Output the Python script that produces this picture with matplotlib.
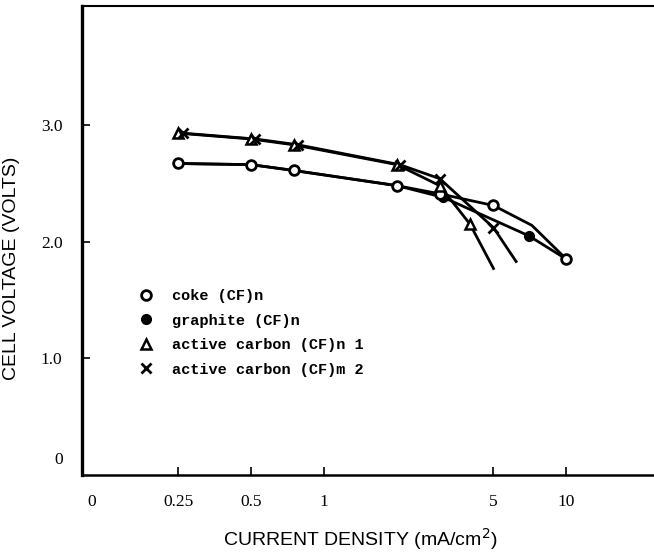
import matplotlib
matplotlib.use('Agg')
import matplotlib.pyplot as plt

# current density (mA/cm2) and cell voltage (V)
coke_I = [0.25, 0.5, 0.75, 2, 3, 5, 10]
coke_V = [2.67, 2.66, 2.61, 2.48, 2.41, 2.31, 1.85]
coke_line_I = [0.25, 0.5, 0.75, 2, 3, 5, 7.2, 10]
coke_line_V = [2.67, 2.66, 2.61, 2.48, 2.41, 2.31, 2.14, 1.85]

graphite_I = [0.25, 0.5, 0.75, 2, 3.1, 7]
graphite_V = [2.67, 2.66, 2.61, 2.48, 2.38, 2.05]
graphite_line_I = [0.25, 0.5, 0.75, 2, 3.1, 7, 10]
graphite_line_V = [2.67, 2.66, 2.61, 2.48, 2.38, 2.05, 1.85]

ac1_I = [0.25, 0.5, 0.75, 2, 3, 4]
ac1_V = [2.93, 2.88, 2.83, 2.66, 2.48, 2.15]
ac1_line_I = [0.25, 0.5, 0.75, 2, 3, 4, 5.0]
ac1_line_V = [2.93, 2.88, 2.83, 2.66, 2.48, 2.15, 1.77]

ac2_I = [0.26, 0.52, 0.78, 2.05, 3, 5]
ac2_V = [2.93, 2.88, 2.83, 2.66, 2.54, 2.12]
ac2_line_I = [0.26, 0.52, 0.78, 2.05, 3, 5, 6.2]
ac2_line_V = [2.93, 2.88, 2.83, 2.66, 2.54, 2.12, 1.83]

labels = ['coke (CF)n', 'graphite (CF)n', 'active carbon (CF)n 1', 'active carbon (CF)m 2']

x_ticks = [0.11, 0.25, 0.5, 1, 5, 10]
x_ticklabels = ['0', '0.25', '0.5', '1', '5', '10']
y_ticks = [0.15, 1, 2, 3]
y_ticklabels = ['0', '1.0', '2.0', '3.0']

fig = plt.figure(figsize=(6.54, 5.57), dpi=100)
ax = fig.add_axes([82 / 654, 1 - 475 / 557, 1 - 82 / 654, 469 / 557])

lw = 2.0
ax.plot(graphite_line_I, graphite_line_V, color='black', lw=lw, zorder=2)
ax.plot(coke_line_I, coke_line_V, color='black', lw=lw, zorder=2)
ax.plot(ac1_line_I, ac1_line_V, color='black', lw=lw, zorder=2)
ax.plot(ac2_line_I, ac2_line_V, color='black', lw=lw, zorder=2)

h_g, = ax.plot(graphite_I, graphite_V, 'o', ms=7, mfc='black', mec='black', zorder=3)
h_c, = ax.plot(coke_I, coke_V, 'o', ms=7, mfc='white', mec='black', mew=2.0, zorder=4)
h_t, = ax.plot(ac1_I, ac1_V, '^', ms=7, mfc='white', mec='black', mew=1.8, zorder=4)
h_x, = ax.plot(ac2_I, ac2_V, 'x', ms=6.5, mec='black', mew=2.0, zorder=5)

ax.set_xscale('log')
ax.set_xlim(0.1, 23)
ax.set_ylim(0, 4.02)

ax.set_xticks(x_ticks)
ax.set_xticklabels(x_ticklabels)
ax.xaxis.set_minor_locator(matplotlib.ticker.NullLocator())
ax.set_yticks(y_ticks)
ax.set_yticklabels(y_ticklabels)
ax.get_xticklines()[0].set_visible(False)
ax.get_yticklines()[0].set_visible(False)

ax.tick_params(direction='in', length=6, width=1.2, labelsize=12.5)
ax.tick_params(axis='x', pad=14)
ax.tick_params(axis='y', pad=14)
for t in ax.get_xticklabels() + ax.get_yticklabels():
    t.set_fontfamily('Liberation Serif')

ax.spines['right'].set_visible(False)
ax.spines['left'].set_linewidth(2.4)
ax.spines['bottom'].set_linewidth(1.8)
ax.spines['top'].set_linewidth(1.5)

ax.set_ylabel('CELL VOLTAGE (VOLTS)', fontsize=14, family='Liberation Sans')
ax.yaxis.set_label_coords(-0.108, 0.44)
ax.set_xlabel('CURRENT DENSITY (mA/cm$^2$)', fontsize=14, family='Liberation Sans')
ax.xaxis.set_label_coords(0.486, -0.108)

leg = ax.legend([h_c, h_g, h_t, h_x], labels, loc='upper left',
                bbox_to_anchor=(0.08, 0.425), frameon=False, handlelength=0.6,
                handletextpad=1.4, labelspacing=0.68,
                prop={'family': 'Liberation Mono', 'weight': 'bold', 'size': 11})

fig.savefig('out.png', dpi=100)
